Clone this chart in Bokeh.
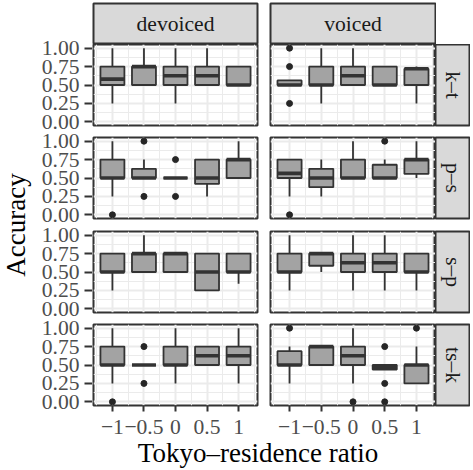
import math
from bokeh.plotting import figure
from bokeh.layouts import row, column
from bokeh.models import Range1d, FixedTicker, CustomJSTickFormatter, Label, ColumnDataSource
from bokeh.embed import file_html
from bokeh.resources import INLINE

# ---------------- data ----------------
x_levels = [-1.0, -0.5, 0.0, 0.5, 1.0]
x_tick_labels = ["\u22121", "\u22120.5", "0", "0.5", "1"]
x_minor = [-1.25, -0.75, -0.25, 0.25, 0.75, 1.25]
y_ticks = [0.0, 0.25, 0.5, 0.75, 1.0]
y_tick_labels = ["0.00", "0.25", "0.50", "0.75", "1.00"]
y_minor = [0.125, 0.375, 0.625, 0.875]
col_labels = ["devoiced", "voiced"]
row_labels = ["k\u2013t", "p\u2013s", "s\u2013p", "ts\u2013k"]
x_title = "Tokyo\u2013residence ratio"
y_title = "Accuracy"

kt_devoiced = dict(lower=[0.25, 0.5, 0.25, 0.5, 0.5], q1=[0.5, 0.5, 0.5, 0.5, 0.5],
                   median=[0.58, 0.75, 0.625, 0.625, 0.5], q3=[0.75, 0.75, 0.75, 0.75, 0.75],
                   upper=[1.0, 1.0, 1.0, 1.0, 0.75])
kt_devoiced_out_x = []
kt_devoiced_out_y = []
kt_voiced = dict(lower=[0.5, 0.25, 0.5, 0.5, 0.25], q1=[0.5, 0.5, 0.5, 0.5, 0.5],
                 median=[0.5, 0.5, 0.625, 0.5, 0.72], q3=[0.5625, 0.75, 0.75, 0.75, 0.72],
                 upper=[0.5625, 1.0, 1.0, 0.75, 0.75])
kt_voiced_out_x = [-1.0, -1.0, -1.0]
kt_voiced_out_y = [1.0, 0.75, 0.25]

ps_devoiced = dict(lower=[0.25, 0.5, 0.5, 0.25, 0.5], q1=[0.5, 0.5, 0.5, 0.42, 0.5],
                   median=[0.5, 0.5, 0.5, 0.5, 0.75], q3=[0.75, 0.625, 0.5, 0.75, 0.75],
                   upper=[1.0, 0.75, 0.5, 0.75, 1.0])
ps_devoiced_out_x = [-1.0, -0.5, -0.5, 0.0, 0.0]
ps_devoiced_out_y = [0.0, 1.0, 0.25, 0.75, 0.25]
ps_voiced = dict(lower=[0.25, 0.25, 0.5, 0.5, 0.5], q1=[0.5, 0.375, 0.5, 0.5, 0.555],
                 median=[0.5625, 0.5, 0.5, 0.5, 0.75], q3=[0.75, 0.625, 0.75, 0.68, 0.75],
                 upper=[0.75, 0.75, 1.0, 0.75, 1.0])
ps_voiced_out_x = [-1.0, 0.5]
ps_voiced_out_y = [0.0, 1.0]

sp_devoiced = dict(lower=[0.25, 0.5, 0.5, 0.25, 0.34], q1=[0.5, 0.5, 0.5, 0.25, 0.5],
                   median=[0.5, 0.75, 0.75, 0.5, 0.5], q3=[0.75, 0.75, 0.75, 0.75, 0.75],
                   upper=[0.75, 1.0, 0.75, 0.75, 0.75])
sp_devoiced_out_x = []
sp_devoiced_out_y = []
sp_voiced = dict(lower=[0.25, 0.5, 0.25, 0.25, 0.25], q1=[0.5, 0.585, 0.5, 0.5, 0.5],
                 median=[0.5, 0.75, 0.625, 0.625, 0.5], q3=[0.75, 0.75, 0.75, 0.75, 0.75],
                 upper=[1.0, 0.75, 1.0, 1.0, 0.75])
sp_voiced_out_x = []
sp_voiced_out_y = []

tsk_devoiced = dict(lower=[0.25, 0.5, 0.25, 0.5, 0.25], q1=[0.5, 0.5, 0.5, 0.5, 0.5],
                    median=[0.5, 0.5, 0.5, 0.625, 0.625], q3=[0.75, 0.5, 0.75, 0.75, 0.75],
                    upper=[1.0, 0.5, 1.0, 0.75, 1.0])
tsk_devoiced_out_x = [-1.0, -0.5, -0.5]
tsk_devoiced_out_y = [0.0, 0.75, 0.25]
tsk_voiced = dict(lower=[0.25, 0.5, 0.25, 0.4375, 0.25], q1=[0.5, 0.5, 0.5, 0.4375, 0.25],
                  median=[0.5, 0.75, 0.625, 0.47, 0.5], q3=[0.6875, 0.75, 0.75, 0.5, 0.5],
                  upper=[0.75, 0.75, 1.0, 0.5, 0.75])
tsk_voiced_out_x = [-1.0, 0.0, 0.5, 0.5, 0.5, 1.0]
tsk_voiced_out_y = [1.0, 0.0, 0.75, 0.25, 0.0, 1.0]

# ---------------- style / layout ----------------
SERIF = "Liberation Serif"
DARK = "#333333"
BOX_FILL = "#A3A3A3"
STRIP_FILL = "#D9D9D9"
GRID = "#EBEBEB"
BOX_W = 0.38
TICK_FS = "21.6px"
TITLE_FS = "27px"
FRAME_H = 81
Y_LO, Y_HI = -0.05, 1.05

YLAB_W = 36
YAXIS_W, YAXIS_MBL = 56, 54
LEFT_W, LEFT_MBL, LEFT_MBR = 171, 1, 6
RIGHT_W, RIGHT_MBL, RIGHT_MBR = 172, 7, 0
STRIP_W = 35
TOP_H = 44
TITLE_H = 33
TITLE_OVERLAP = 6
X_STANDOFF = 8
row_borders = [(0, 6), (6, 6), (7, 6), (6, 38)]


def fmt(vals, labels):
    return CustomJSTickFormatter(args=dict(tick_values=vals, tick_labels=labels),
                                 code="const i = tick_values.indexOf(tick); return i < 0 ? '' : tick_labels[i];")


def base_fig(width, height, mbl, mbr, mbt, mbb, bfill="white", **kw):
    return figure(width=width, height=height, title=None,
                  toolbar_location=None, output_backend="svg",
                  min_border_left=mbl, min_border_right=mbr,
                  min_border_top=mbt, min_border_bottom=mbb,
                  border_fill_color=bfill, **kw)


def style_axis(ax):
    ax.axis_line_color = None
    ax.major_tick_line_color = DARK
    ax.major_tick_line_width = 2
    ax.minor_tick_line_color = None
    ax.major_label_text_font = SERIF
    ax.major_label_text_font_size = TICK_FS
    ax.major_label_text_color = "#4D4D4D"


def make_panel(stats, out_x, out_y, first_col, last_row, mb_top, mb_bottom):
    if first_col:
        width, mbl, mbr = LEFT_W, LEFT_MBL, LEFT_MBR
    else:
        width, mbl, mbr = RIGHT_W, RIGHT_MBL, RIGHT_MBR
    p = base_fig(width, mb_top + FRAME_H + mb_bottom, mbl, mbr, mb_top, mb_bottom,
                 x_range=Range1d(-1.3, 1.3), y_range=Range1d(Y_LO, Y_HI),
                 x_axis_location="below" if last_row else None,
                 y_axis_location=None,
                 outline_line_color=DARK, outline_line_width=2,
                 background_fill_color="white")
    p.xgrid.ticker = FixedTicker(ticks=x_levels, minor_ticks=x_minor)
    p.ygrid.ticker = FixedTicker(ticks=y_ticks, minor_ticks=y_minor)
    p.grid.grid_line_color = GRID
    p.grid.grid_line_width = 2
    p.grid.minor_grid_line_color = GRID
    p.grid.minor_grid_line_width = 1

    for ax in p.xaxis:
        style_axis(ax)
        ax.ticker = FixedTicker(ticks=x_levels)
        ax.formatter = fmt(x_levels, x_tick_labels)
        ax.major_tick_in = 0
        ax.major_tick_out = 6
        ax.major_label_standoff = X_STANDOFF

    src = ColumnDataSource(dict(
        x=x_levels,
        left=[v - BOX_W / 2 for v in x_levels],
        right=[v + BOX_W / 2 for v in x_levels],
        lower=stats["lower"], q1=stats["q1"], median=stats["median"],
        q3=stats["q3"], upper=stats["upper"]))
    p.segment(x0="x", y0="q3", x1="x", y1="upper", source=src, line_color=DARK, line_width=1.8)
    p.segment(x0="x", y0="lower", x1="x", y1="q1", source=src, line_color=DARK, line_width=1.8)
    p.vbar(x="x", width=BOX_W, top="q3", bottom="q1", source=src,
           fill_color=BOX_FILL, line_color=DARK, line_width=1.8)
    p.segment(x0="left", y0="median", x1="right", y1="median", source=src,
              line_color=DARK, line_width=3.6)
    if out_x:
        p.scatter(x=out_x, y=out_y, size=6, color="#262626")
    return p


def make_strip(text, width, height, mbl, mbr, mbt, mbb, angle=0.0):
    p = base_fig(width, height, mbl, mbr, mbt, mbb,
                 x_range=Range1d(0, 1), y_range=Range1d(0, 1),
                 x_axis_location=None, y_axis_location=None,
                 background_fill_color=STRIP_FILL,
                 outline_line_color=DARK, outline_line_width=2)
    p.grid.visible = False
    p.add_layout(Label(x=0.5, y=0.5, text=text, angle=angle,
                       text_align="center", text_baseline="middle",
                       text_font=SERIF, text_font_size=TICK_FS, text_color="#1A1A1A"))
    return p


def make_text_fig(width, height, mbl, mbr, mbt, mbb, text, x, y, angle, transparent=False):
    fill = None if transparent else "white"
    p = base_fig(width, height, mbl, mbr, mbt, mbb, bfill=fill,
                 x_range=Range1d(0, 1), y_range=Range1d(0, 1),
                 x_axis_location=None, y_axis_location=None,
                 outline_line_color=None, background_fill_color=fill)
    p.grid.visible = False
    p.add_layout(Label(x=x, y=y, text=text, angle=angle,
                       text_align="center", text_baseline="middle",
                       text_font=SERIF, text_font_size=TITLE_FS, text_color="black"))
    return p


panels = [
    (kt_devoiced, kt_devoiced_out_x, kt_devoiced_out_y, kt_voiced, kt_voiced_out_x, kt_voiced_out_y),
    (ps_devoiced, ps_devoiced_out_x, ps_devoiced_out_y, ps_voiced, ps_voiced_out_x, ps_voiced_out_y),
    (sp_devoiced, sp_devoiced_out_x, sp_devoiced_out_y, sp_voiced, sp_voiced_out_x, sp_voiced_out_y),
    (tsk_devoiced, tsk_devoiced_out_x, tsk_devoiced_out_y, tsk_voiced, tsk_voiced_out_x, tsk_voiced_out_y),
]

top_row = row(make_strip(col_labels[0], LEFT_W, TOP_H, LEFT_MBL, LEFT_MBR, 3, 0),
              make_strip(col_labels[1], RIGHT_W + 1, TOP_H, RIGHT_MBL, 1, 3, 0), spacing=0)

rows = [top_row]
total_h = TOP_H
for i, (d, dx, dy, v, vx, vy) in enumerate(panels):
    mbt, mbb = row_borders[i]
    last = i == len(panels) - 1
    left_p = make_panel(d, dx, dy, True, last, mbt, mbb)
    right_p = make_panel(v, vx, vy, False, last, mbt, mbb)
    strip = make_strip(row_labels[i], STRIP_W, mbt + FRAME_H + mbb, 0, 1, mbt, mbb, angle=-math.pi / 2)
    rows.append(row(left_p, right_p, strip, spacing=0))
    total_h += mbt + FRAME_H + mbb

title_fig = make_text_fig(LEFT_W + RIGHT_W + STRIP_W, TITLE_H, LEFT_MBL,
                          LEFT_MBR + RIGHT_MBL + STRIP_W, 0, 0, x_title, 0.5, 0.52, 0.0,
                          transparent=True)
title_fig.margin = (-TITLE_OVERLAP, 0, 0, 0)
rows.append(title_fig)
total_h += TITLE_H - TITLE_OVERLAP

# ---- shared y axis: facet rows stacked on one axis (same scale as each panel) ----
unit_per_px = (Y_HI - Y_LO) / FRAME_H
n_rows = len(panels)
gaps_px = [row_borders[r][1] + row_borders[r + 1][0] for r in range(n_rows - 1)]
bases = [0.0] * n_rows
for r in range(n_rows - 2, -1, -1):
    bases[r] = bases[r + 1] + (Y_HI - Y_LO) + gaps_px[r] * unit_per_px
stack_ticks = []
stack_labels = []
for r in range(n_rows - 1, -1, -1):
    for t, lab in zip(y_ticks, y_tick_labels):
        stack_ticks.append(bases[r] + t)
        stack_labels.append(lab)
span_px = n_rows * FRAME_H + sum(gaps_px)
ymax_stack = bases[0] + Y_HI

yaxis_fig = base_fig(YAXIS_W, total_h, YAXIS_MBL, 0, TOP_H, total_h - TOP_H - span_px,
                     x_range=Range1d(0, 1), y_range=Range1d(Y_LO, ymax_stack),
                     x_axis_location=None, y_axis_location="left",
                     outline_line_color=None, background_fill_color="white")
yaxis_fig.grid.visible = False
for ax in yaxis_fig.yaxis:
    style_axis(ax)
    ax.ticker = FixedTicker(ticks=stack_ticks)
    ax.formatter = fmt(stack_ticks, stack_labels)
    ax.major_tick_out = 6
    ax.major_tick_in = 2
    ax.major_label_standoff = 5

ylab_fig = make_text_fig(YLAB_W, total_h, 0, 0, TOP_H, total_h - TOP_H - span_px,
                         y_title, 0.44, 0.5, math.pi / 2)

layout = row(ylab_fig, yaxis_fig, column(*rows, spacing=0), spacing=0)

open("out.html", "w").write(file_html(layout, INLINE))
